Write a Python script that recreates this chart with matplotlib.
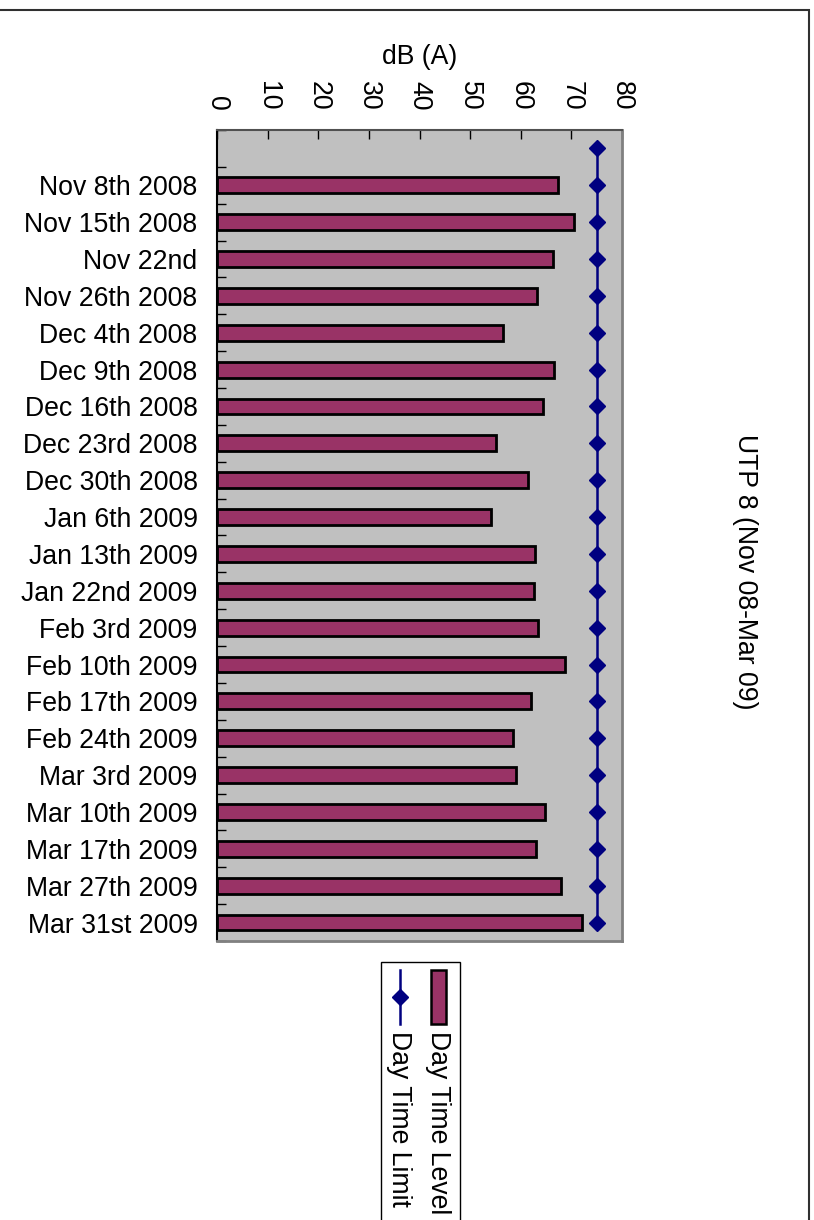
import numpy as np
import matplotlib
matplotlib.use("Agg")
import matplotlib.pyplot as plt
from matplotlib.patches import Rectangle
from matplotlib.lines import Line2D

plt.rcParams['font.family'] = ['Liberation Sans', 'DejaVu Sans']

categories = ["Nov 8th 2008", "Nov 15th 2008", "Nov 22nd", "Nov 26th 2008",
              "Dec 4th 2008", "Dec 9th 2008", "Dec 16th 2008", "Dec 23rd 2008",
              "Dec 30th 2008", "Jan 6th 2009", "Jan 13th 2009", "Jan 22nd 2009",
              "Feb 3rd 2009", "Feb 10th 2009", "Feb 17th 2009", "Feb 24th 2009",
              "Mar 3rd 2009", "Mar 10th 2009", "Mar 17th 2009", "Mar 27th 2009",
              "Mar 31st 2009"]
day_level = [67.4, 70.5, 66.4, 63.3, 56.4, 66.6, 64.3, 55.1, 61.5, 54.2, 62.8,
             62.6, 63.5, 68.7, 62.1, 58.5, 59.1, 64.7, 63.0, 68.0, 72.0]
# limit series has one extra (empty) category at the top
day_limit = [75] * 22
x_ticks = [0, 10, 20, 30, 40, 50, 60, 70, 80]

W, H = 814, 1220
FS = 19.2
fig = plt.figure(figsize=(W / 100, H / 100), dpi=100)

# plot area in pixels
L, R, T, B = 217, 622, 130, 941
ax = fig.add_axes([L / W, 1 - B / H, (R - L) / W, (B - T) / H])
ax.set_facecolor('#C0C0C0')

bar_pos = np.arange(1, len(categories) + 1)
ax.barh(bar_pos, day_level, height=0.43, color='#993366',
        edgecolor='black', linewidth=2.0, zorder=2)
lim_pos = np.arange(0, len(day_limit))
ax.plot(day_limit, lim_pos, color='#000080', lw=1.8, marker='D',
        ms=8.3, mfc='#000080', mec='#000080', zorder=3, clip_on=False)

ax.set_xlim(0, 80)
ax.set_ylim(len(day_limit) - 0.5, -0.5)

ax.xaxis.tick_top()
ax.xaxis.set_label_position('top')
ax.set_xticks(x_ticks)
ax.set_xticklabels([str(v) for v in x_ticks], rotation=-90, fontsize=FS)
ax.tick_params(axis='x', direction='in', length=6.3, width=1,
               color='black', pad=14)
ax.set_xlabel('dB (A)', fontsize=FS, labelpad=12)

ax.set_yticks(bar_pos)
ax.set_yticklabels(categories, fontsize=FS)
ax.tick_params(axis='y', which='major', length=0, pad=14)
ax.set_yticks(np.arange(-0.5, len(day_limit), 1), minor=True)
ax.tick_params(axis='y', which='minor', direction='in', length=6.3,
               width=1, color='black')

for s in ['right', 'bottom']:
    ax.spines[s].set_color('#808080')
    ax.spines[s].set_linewidth(2)
ax.spines['top'].set_color('#505050')
ax.spines['top'].set_linewidth(1.5)
ax.spines['left'].set_color('black')
ax.spines['left'].set_linewidth(1.5)

# overlay for frame, title and legend (pixel coordinates)
ov = fig.add_axes([0, 0, 1, 1], zorder=-1)
ov.set_xlim(0, W)
ov.set_ylim(H, 0)
ov.axis('off')
ov.patch.set_alpha(0)
ov.add_patch(Rectangle((-5, 10), 809 + 5, H + 20, fill=False,
                       edgecolor='#303030', lw=1.5))

fig.text(745 / W, 1 - 572 / H, 'UTP 8 (Nov 08-Mar 09)', rotation=-90,
         ha='center', va='center', fontsize=FS)

lg = fig.add_axes([0, 0, 1, 1], zorder=5)
lg.set_xlim(0, W)
lg.set_ylim(H, 0)
lg.axis('off')
lg.patch.set_alpha(0)
lg.add_patch(Rectangle((381, 962), 79, H, facecolor='white',
                       edgecolor='black', lw=1))
lg.add_patch(Rectangle((431, 970), 15, 54, facecolor='#993366',
                       edgecolor='black', lw=1.8))
lg.add_line(Line2D([400, 400], [970, 1024], color='#000080', lw=1.8))
lg.add_line(Line2D([400], [997], color='#000080', marker='D', ms=8.3,
                   mfc='#000080', mec='#000080'))
lg.text(438, 1031, 'Day Time Level', rotation=-90, ha='center', va='top',
        fontsize=FS)
lg.text(399, 1031, 'Day Time Limit', rotation=-90, ha='center', va='top',
        fontsize=FS)

fig.savefig('out.png', dpi=100)
